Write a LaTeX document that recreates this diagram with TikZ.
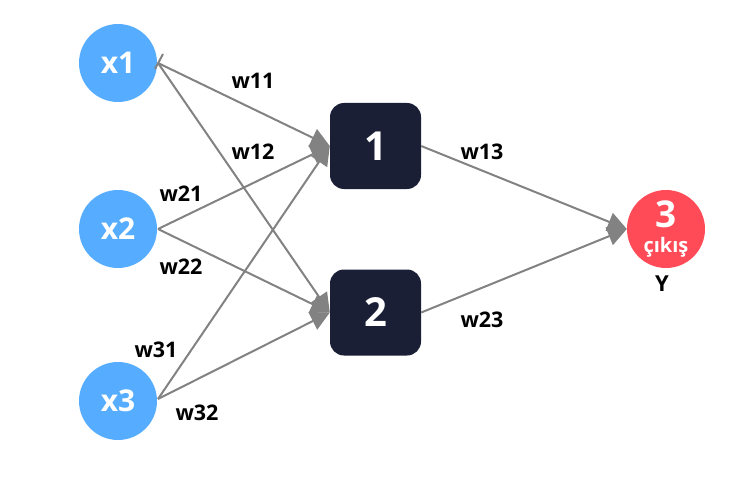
\documentclass[tikz,border=0pt]{standalone}
\usepackage{fontspec}
\setmainfont{Open Sans}
\usetikzlibrary{arrows.meta}
\definecolor{inblue}{HTML}{56ADFF}
\definecolor{hidnavy}{HTML}{1A1F36}
\definecolor{outred}{HTML}{FF4A57}
\definecolor{edgegray}{HTML}{828282}
\tikzset{
  inode/.style={circle,fill=inblue,minimum size=78pt,inner sep=0pt,text=white,font=\bfseries\fontsize{30}{30}\selectfont},
  hnode/.style={rectangle,rounded corners=14pt,fill=hidnavy,minimum width=91pt,minimum height=86pt,inner sep=0pt,text=white,font=\bfseries\fontsize{40}{40}\selectfont},
  onode/.style={circle,fill=outred,minimum size=78pt,inner sep=0pt},
  conn/.style={draw=edgegray,line width=2pt,-{Triangle[length=19pt,width=19pt]}},
  wlab/.style={font=\bfseries\fontsize{21.5}{21.5}\selectfont,text=black,inner sep=0pt}
}
\begin{document}
\begin{tikzpicture}[x=1pt,y=-1pt]
\useasboundingbox (0,0) rectangle (738,484);
\node[inode] (x1) at (118,63) {x1};
\node[inode] (x2) at (118,229) {x2};
\node[inode] (x3) at (118,401) {x3};
\node[hnode] (h1) at (375.5,146) {1};
\node[hnode] (h2) at (375.5,312.5) {2};
\node[onode] (o) at (666,229) {};
\node[text=white,font=\bfseries\fontsize{37}{37}\selectfont,inner sep=0pt] (o3) at (666,214) {3};
\node[text=white,font=\bfseries\fontsize{20}{20}\selectfont,inner sep=0pt] (oc) at (666,247) {çıkış};
\node[font=\bfseries\fontsize{22}{22}\selectfont,inner sep=0pt] (y) at (662,284) {Y};
\coordinate (s1) at (158,63);
\coordinate (s2) at (158,229);
\coordinate (s3) at (158,399);
\draw[conn] (s1) -- (h1.west);
\draw[conn] (s1) -- (h2.west);
\draw[conn] (s2) -- (h1.west);
\draw[conn] (s2) -- (h2.west);
\draw[conn] (s3) -- (h1.west);
\draw[conn] (s3) -- (h2.west);
\draw[conn] (h1.east) -- (o.west);
\draw[conn] (h2.east) -- (o.west);
\draw[edgegray,line width=2pt] (155,69) -- (163,54);
\node[wlab] (w11) at (253,81) {w11};
\node[wlab] (w12) at (253,152) {w12};
\node[wlab] (w21) at (181,194) {w21};
\node[wlab] (w22) at (181,267) {w22};
\node[wlab] (w31) at (156,350) {w31};
\node[wlab] (w32) at (197,413) {w32};
\node[wlab] (w13) at (482,152) {w13};
\node[wlab] (w23) at (482,320) {w23};
\end{tikzpicture}
\end{document}
